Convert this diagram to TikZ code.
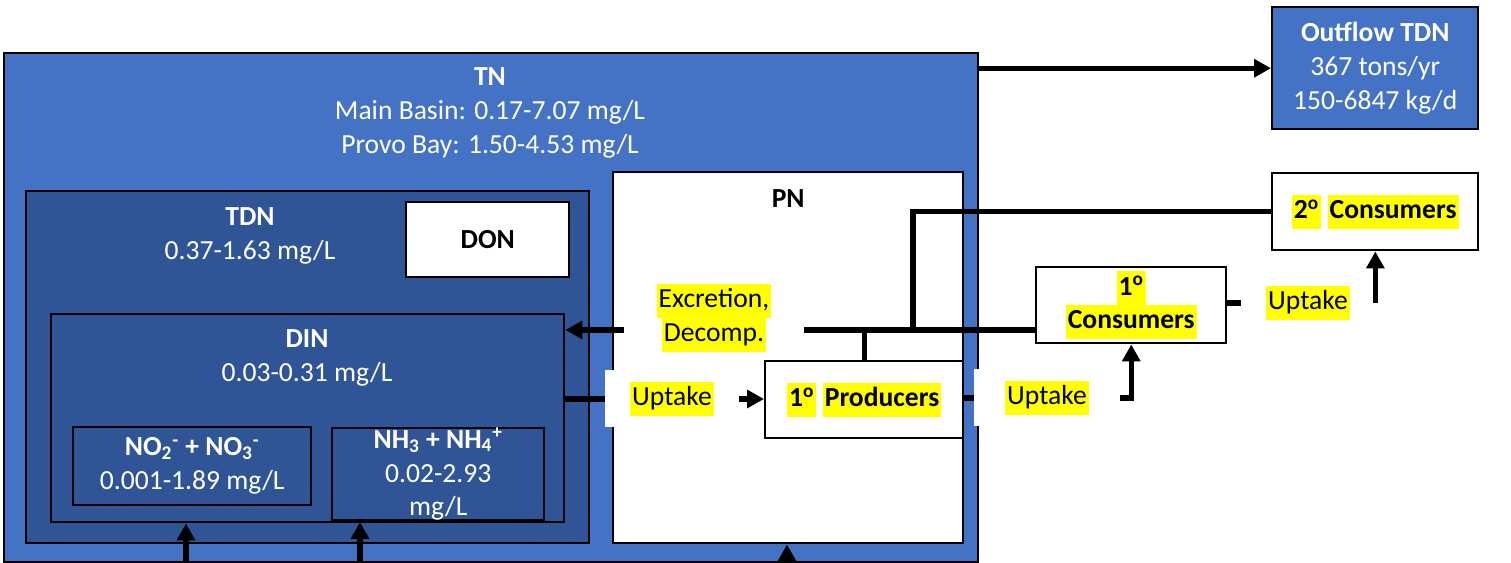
\documentclass[tikz,border=0pt]{standalone}
\usepackage{fontspec}
\setmainfont{Carlito}
\usepackage{xcolor}
\usepackage{tikz}
\usetikzlibrary{positioning,arrows.meta,calc}
\definecolor{tnblue}{RGB}{68,114,196}
\definecolor{tdnblue}{RGB}{47,85,151}
\definecolor{hlyellow}{RGB}{255,255,0}
\newdimen\pxu \pxu=0.02cm
\newcommand{\hlt}[1]{{\setlength{\fboxsep}{0pt}\colorbox{hlyellow}{\strut\hspace{1.2pt}#1\hspace{1.2pt}}}}
\newcommand{\ordo}{\textsuperscript{o}}
\tikzset{
  box/.style  ={draw=black, line width=1.4pt, anchor=north west, inner sep=0pt, align=center},
  bbox/.style ={box, fill=tnblue, text=white},
  dbox/.style ={box, fill=tdnblue, text=white},
  wbox/.style ={box, fill=white},
  lbl/.style  ={align=center, inner sep=0pt},
  uptk/.style ={fill=white, minimum width=134\pxu, minimum height=57\pxu, inner sep=0pt},
  ar/.style   ={-{Triangle[length=9.6pt,width=10pt]}, line width=3pt},
  ln/.style   ={line width=3pt},
}
\begin{document}
\begin{tikzpicture}[x=0.02cm,y=-0.02cm,font=\fontsize{15.7}{19.3}\selectfont]
\useasboundingbox (0,0) rectangle (1511,563);
\node[bbox,minimum width=974\pxu,minimum height=509\pxu] (tn) at (3,52) {};
\node[bbox,minimum width=206\pxu,minimum height=122\pxu] (outf) at (1271,6)
  {\textbf{Outflow TDN}\\367 tons/yr\\150-6847 kg/d};
\node[dbox,minimum width=563\pxu,minimum height=352\pxu] (tdn) at (25,190) {};
\node[wbox,minimum width=163\pxu,minimum height=75\pxu] (don) at (405,201) {\textbf{DON}};
\node[dbox,minimum width=513\pxu,minimum height=208\pxu] (din) at (50,313) {};
\node[dbox,minimum width=238\pxu,minimum height=78\pxu] (no2) at (72,426)
  {\textbf{NO\textsubscript{2}\textsuperscript{-} + NO\textsubscript{3}\textsuperscript{-}}\\0.001-1.89 mg/L};
\node[dbox,minimum width=212\pxu,minimum height=76\pxu] (nh3) at (331,427)
  {\textbf{NH\textsubscript{3} + NH\textsubscript{4}\textsuperscript{+}}\\0.02-2.93\\mg/L};
\node[wbox,minimum width=350\pxu,minimum height=371\pxu] (pn) at (612,171) {};
\node[wbox,minimum width=198\pxu,minimum height=77\pxu] (prod) at (764,360)
  {\textbf{\hlt{1\ordo} \hlt{Producers}}};
\node[wbox,minimum width=190\pxu,minimum height=76\pxu] (cons1) at (1035,266)
  {\hlt{\textbf{1\ordo}}\\\hlt{\textbf{Consumers}}};
\node[wbox,minimum width=206\pxu,minimum height=77\pxu] (cons2) at (1271,172)
  {\textbf{\hlt{2\ordo} \hlt{Consumers}}};

% box titles
\node[lbl,text=white] (tnlbl) at (490,113)
  {\textbf{TN}\\Main Basin: 0.17-7.07 mg/L\\Provo Bay: 1.50-4.53 mg/L};
\node[lbl,text=white] (tdnlbl) at (250,236) {\textbf{TDN}\\0.37-1.63 mg/L};
\node[lbl,text=white] (dinlbl) at (307,358) {\textbf{DIN}\\0.03-0.31 mg/L};
\node[lbl,below=18\pxu of pn.north] (pnlbl) {\textbf{PN}};

% flow labels
\node[lbl,minimum width=179\pxu] (exc) at (714,318) {\hlt{Excretion,}\\\hlt{Decomp.}};
\node[uptk] (upt1) at (672,399) {\hlt{Uptake}};
\node[uptk,minimum width=146\pxu] (upt2) at (1047,398) {\hlt{Uptake}};
\node[uptk] (upt3) at (1308,303) {\hlt{Uptake}};

\coordinate (exw) at ([yshift=-12\pxu]exc.west);
\coordinate (exe) at ([yshift=-12\pxu]exc.east);
\coordinate (jn) at (913,330);
\coordinate (in1) at (186,563);
\coordinate (in2) at (360,563);
\coordinate (in3) at (787,563);

\draw[ar] (tn.east |- outf.west) -- (outf.west);
\draw[ar] (exw) -- (exw -| din.east);
\draw[ln] (exe) -- (exe -| cons1.west);
\draw[ln] (prod.north) -- (prod.north |- exe);
\draw[ln] (cons2.west) -| (jn);
\draw[ln] (din.east |- upt1.west) -- (upt1.west);
\draw[ar] (upt1.east) -- (prod.west |- upt1.east);
\draw[ln] (prod.east |- upt2.west) -- (upt2.west);
\draw[ar] (upt2.east) -| (cons1.south);
\draw[ln] (cons1.east |- upt3.west) -- (upt3.west);
\draw[ar] (upt3.east) -- (upt3.east |- cons2.south);
\draw[ar] (in1) -- (in1 |- din.south);
\draw[ar] (in2) -- (in2 |- nh3.south);
\draw[ar] (in3) -- (in3 |- pn.south);
\end{tikzpicture}
\end{document}
